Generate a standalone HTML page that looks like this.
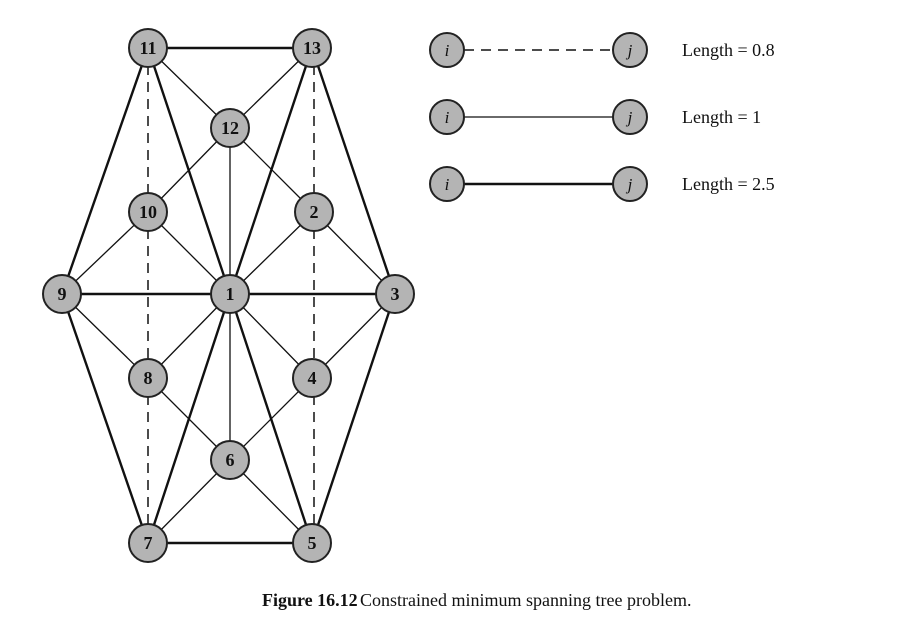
<!DOCTYPE html>
<html><head><style>body{margin:0;background:#fff}svg{display:block}</style></head><body>
<svg width="902" height="627" xmlns="http://www.w3.org/2000/svg">
<g stroke="#111" fill="none">
<g stroke-width="2.4">
<line x1="148" y1="48" x2="312" y2="48"/>
<line x1="148" y1="48" x2="62" y2="294"/>
<line x1="312" y1="48" x2="395" y2="294"/>
<line x1="148" y1="48" x2="230" y2="294"/>
<line x1="312" y1="48" x2="230" y2="294"/>
<line x1="62" y1="294" x2="230" y2="294"/>
<line x1="230" y1="294" x2="395" y2="294"/>
<line x1="62" y1="294" x2="148" y2="543"/>
<line x1="395" y1="294" x2="312" y2="543"/>
<line x1="230" y1="294" x2="148" y2="543"/>
<line x1="230" y1="294" x2="312" y2="543"/>
<line x1="148" y1="543" x2="312" y2="543"/>
</g>
<g stroke-width="1.3">
<line x1="148" y1="48" x2="230" y2="128"/>
<line x1="312" y1="48" x2="230" y2="128"/>
<line x1="230" y1="128" x2="230" y2="294"/>
<line x1="230" y1="128" x2="148" y2="212"/>
<line x1="230" y1="128" x2="314" y2="212"/>
<line x1="148" y1="212" x2="62" y2="294"/>
<line x1="148" y1="212" x2="230" y2="294"/>
<line x1="314" y1="212" x2="230" y2="294"/>
<line x1="314" y1="212" x2="395" y2="294"/>
<line x1="62" y1="294" x2="148" y2="378"/>
<line x1="230" y1="294" x2="148" y2="378"/>
<line x1="230" y1="294" x2="312" y2="378"/>
<line x1="395" y1="294" x2="312" y2="378"/>
<line x1="148" y1="378" x2="230" y2="460"/>
<line x1="312" y1="378" x2="230" y2="460"/>
<line x1="230" y1="294" x2="230" y2="460"/>
<line x1="230" y1="460" x2="148" y2="543"/>
<line x1="230" y1="460" x2="312" y2="543"/>
</g>
<g stroke-width="1.5" stroke-dasharray="10,7">
<line x1="148" y1="48" x2="148" y2="212"/>
<line x1="148" y1="212" x2="148" y2="378"/>
<line x1="148" y1="378" x2="148" y2="543"/>
<line x1="314" y1="48" x2="314" y2="212"/>
<line x1="314" y1="212" x2="314" y2="378"/>
<line x1="314" y1="378" x2="314" y2="543"/>
<line x1="447" y1="50" x2="630" y2="50"/>
</g>
<line x1="447" y1="117" x2="630" y2="117" stroke-width="1.3"/>
<line x1="447" y1="184" x2="630" y2="184" stroke-width="2.4"/>
</g>
<g fill="#b4b4b4" stroke="#222" stroke-width="2">
<circle cx="148" cy="48" r="19"/><circle cx="312" cy="48" r="19"/>
<circle cx="230" cy="128" r="19"/><circle cx="148" cy="212" r="19"/>
<circle cx="314" cy="212" r="19"/><circle cx="62" cy="294" r="19"/>
<circle cx="230" cy="294" r="19"/><circle cx="395" cy="294" r="19"/>
<circle cx="148" cy="378" r="19"/><circle cx="312" cy="378" r="19"/>
<circle cx="230" cy="460" r="19"/><circle cx="148" cy="543" r="19"/>
<circle cx="312" cy="543" r="19"/>
<circle cx="447" cy="50" r="17"/><circle cx="630" cy="50" r="17"/>
<circle cx="447" cy="117" r="17"/><circle cx="630" cy="117" r="17"/>
<circle cx="447" cy="184" r="17"/><circle cx="630" cy="184" r="17"/>
</g>
<g font-family="Liberation Serif, serif" font-size="18" fill="#111" text-anchor="middle" font-weight="bold">
<text x="148" y="54">11</text><text x="312" y="54">13</text>
<text x="230" y="134">12</text><text x="148" y="218">10</text>
<text x="314" y="218">2</text><text x="62" y="300">9</text>
<text x="230" y="300">1</text><text x="395" y="300">3</text>
<text x="148" y="384">8</text><text x="312" y="384">4</text>
<text x="230" y="466">6</text><text x="148" y="549">7</text>
<text x="312" y="549">5</text>
</g>
<g font-family="Liberation Serif, serif" font-size="17" fill="#111" font-style="italic" text-anchor="middle">
<text x="447" y="56">i</text><text x="630" y="56">j</text>
<text x="447" y="123">i</text><text x="630" y="123">j</text>
<text x="447" y="190">i</text><text x="630" y="190">j</text>
</g>
<g font-family="Liberation Serif, serif" font-size="18" fill="#111">
<text x="682" y="56">Length = 0.8</text>
<text x="682" y="123">Length = 1</text>
<text x="682" y="190">Length = 2.5</text>
<text x="262" y="606" font-weight="bold">Figure 16.12</text>
<text x="360" y="606">Constrained minimum spanning tree problem.</text>
</g>
</svg>
</body></html>
